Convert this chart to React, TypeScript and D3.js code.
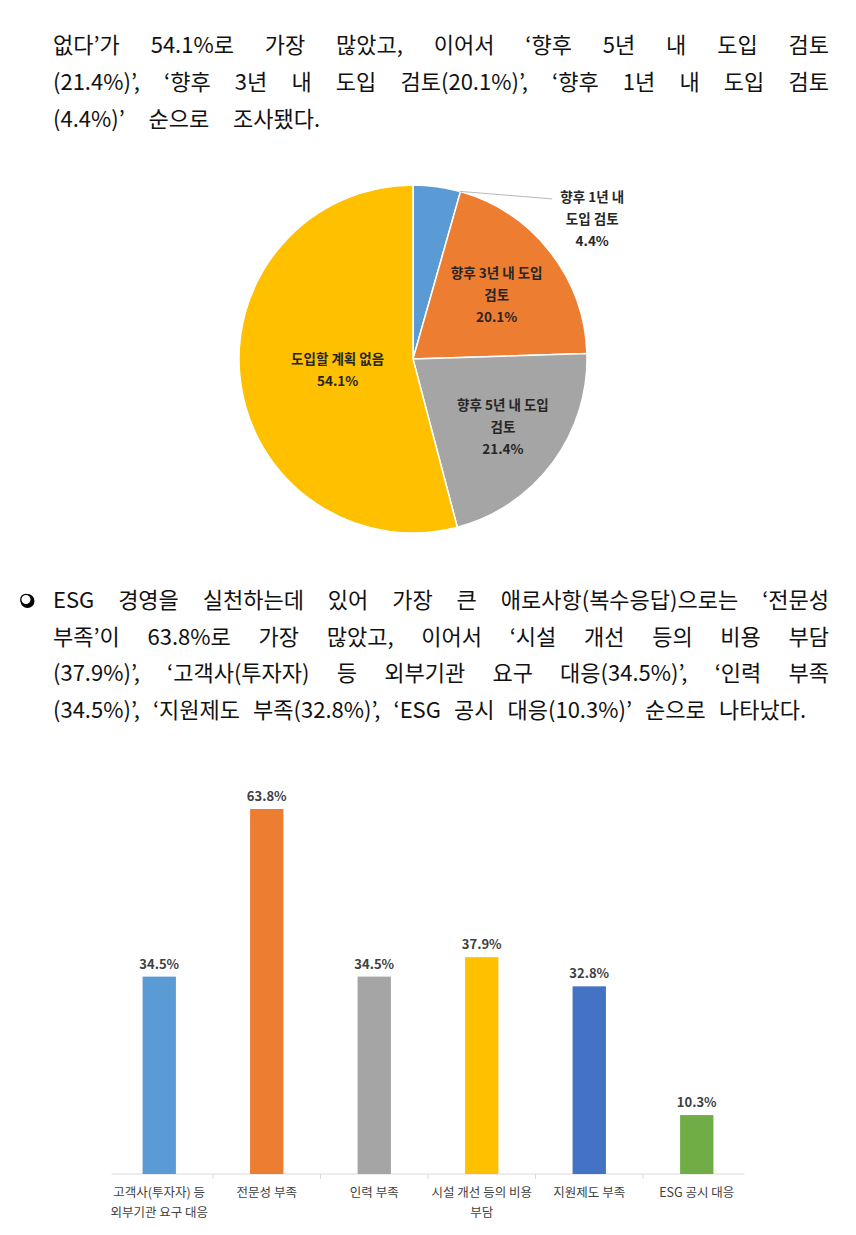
import React, { useRef, useEffect } from 'react';
import * as d3 from 'd3';

// body text (one entry per printed line)
const introLines = [
  '없다’가 54.1%로 가장 많았고, 이어서 ‘향후 5년 내 도입 검토',
  '(21.4%)’, ‘향후 3년 내 도입 검토(20.1%)’, ‘향후 1년 내 도입 검토',
  '(4.4%)’ 순으로 조사됐다.',
];
const findingLines = [
  'ESG 경영을 실천하는데 있어 가장 큰 애로사항(복수응답)으로는 ‘전문성',
  '부족’이 63.8%로 가장 많았고, 이어서 ‘시설 개선 등의 비용 부담',
  '(37.9%)’, ‘고객사(투자자) 등 외부기관 요구 대응(34.5%)’, ‘인력 부족',
  '(34.5%)’, ‘지원제도 부족(32.8%)’, ‘ESG 공시 대응(10.3%)’ 순으로 나타났다.',
];

// pie: adoption plans
const pieCategories = ['향후 1년 내 도입 검토', '향후 3년 내 도입 검토', '향후 5년 내 도입 검토', '도입할 계획 없음'];
const pieValues = [4.4, 20.1, 21.4, 54.1];
const pieLabelLines = [['향후 1년 내', '도입 검토'], ['향후 3년 내 도입', '검토'], ['향후 5년 내 도입', '검토'], ['도입할 계획 없음']];
const pieColors = ['#5B9BD5', '#ED7D31', '#A5A5A5', '#FFC000'];

// bars: main obstacles (multiple answers)
const barCategories = ['고객사(투자자) 등 외부기관 요구 대응', '전문성 부족', '인력 부족', '시설 개선 등의 비용 부담', '지원제도 부족', 'ESG 공시 대응'];
const barValues = [34.5, 63.8, 34.5, 37.9, 32.8, 10.3];
const barLabelLines = [['고객사(투자자) 등', '외부기관 요구 대응'], ['전문성 부족'], ['인력 부족'], ['시설 개선 등의 비용', '부담'], ['지원제도 부족'], ['ESG 공시 대응']];
const barColors = ['#5B9BD5', '#ED7D31', '#A5A5A5', '#FFC000', '#4472C4', '#70AD47'];

const W = 856;
const H = 1235;
const FONT = '"Noto Sans CJK KR", "Noto Sans", sans-serif';

export default function App() {
  const ref = useRef<SVGSVGElement>(null);

  useEffect(() => {
    if (!ref.current) return;
    const svg = d3.select(ref.current);
    svg.selectAll('*').remove();

    drawParagraph(svg, introLines, 53, [829, 829, 320], 53, 37);

    // shadowed bullet
    svg.append('circle').attr('cx', 27.5).attr('cy', 601).attr('r', 7).attr('fill', '#000');
    svg.append('circle').attr('cx', 26).attr('cy', 599.5).attr('r', 5.2)
      .attr('fill', '#fff').attr('stroke', '#000').attr('stroke-width', 1.3);
    drawParagraph(svg, findingLines, 53, [829, 829, 829, 806], 608, 36.7);

    drawPie(svg);
    drawBars(svg);
  }, []);

  return (
    <svg ref={ref} width={W} height={H}
      style={{ position: 'absolute', left: 0, top: 0, display: 'block', background: '#fff' }} />
  );
}

// lays out each line word by word, stretching the gaps to reach the end x
function drawParagraph(svg: any, lines: string[], x0: number, ends: number[], y0: number, lineH: number) {
  const g = svg.append('g')
    .attr('font-family', FONT)
    .attr('font-size', 22)
    .attr('fill', '#111');

  lines.forEach((line, i) => {
    const words = line.split(' ');
    const texts = words.map((w) => g.append('text').attr('y', y0 + i * lineH).text(w));
    const widths = texts.map((t: any) => (t.node() as SVGTextElement).getComputedTextLength());
    const total = d3.sum(widths);
    const gap = words.length > 1 ? (ends[i] - x0 - total) / (words.length - 1) : 0;
    let x = x0;
    texts.forEach((t: any, j: number) => {
      t.attr('x', x);
      x += widths[j] + gap;
    });
  });
}

function drawPie(svg: any) {
  const cx = 413;
  const cy = 359;
  const r = 174;

  const pie = d3.pie<number>().sort(null).value((d) => d);
  const arcs = pie(pieValues);
  const arc = d3.arc<d3.PieArcDatum<number>>().innerRadius(0).outerRadius(r);

  const g = svg.append('g').attr('transform', `translate(${cx},${cy})`);

  g.selectAll('path')
    .data(arcs)
    .enter()
    .append('path')
    .attr('d', arc)
    .attr('fill', (_: any, i: number) => pieColors[i])
    .attr('stroke', '#fff')
    .attr('stroke-width', 1.5)
    .append('title')
    .text((_: any, i: number) => pieCategories[i]);

  const labels = g.append('g')
    .attr('font-family', FONT)
    .attr('font-size', 13.5)
    .attr('font-weight', 700)
    .attr('fill', '#262626')
    .attr('text-anchor', 'middle');

  const lineH = 22;
  // inside labels sit at a fraction of the radius along the slice middle
  const labelRadius = [0, 0.61, 0.645, 0.437];

  arcs.forEach((a, i) => {
    const lines = [...pieLabelLines[i], `${pieValues[i]}%`];
    let px: number;
    let py: number;
    if (i === 0) {
      // small slice: label outside with a leader line from the slice edge
      const ang = a.endAngle - 0.005;
      const sx = Math.sin(ang) * r;
      const sy = -Math.cos(ang) * r;
      const ex = r * 0.8;
      const ey = -r * 0.92;
      labels.append('line')
        .attr('x1', sx).attr('y1', sy).attr('x2', ex).attr('y2', ey)
        .attr('stroke', '#A6A6A6').attr('stroke-width', 0.8);
      px = ex + 40;
      py = ey + 19;
    } else {
      const mid = (a.startAngle + a.endAngle) / 2;
      px = Math.sin(mid) * r * labelRadius[i];
      py = -Math.cos(mid) * r * labelRadius[i];
    }
    lines.forEach((t, k) => {
      labels.append('text')
        .attr('x', px)
        .attr('y', py + (k - (lines.length - 1) / 2) * lineH)
        .attr('dominant-baseline', 'central')
        .text(t);
    });
  });
}

function drawBars(svg: any) {
  const x = d3.scaleBand<string>()
    .domain(barCategories)
    .range([105.5, 750.5])
    .padding(0);

  const y = d3.scaleLinear()
    .domain([0, 63.8])
    .range([1174, 809]);

  const barW = x.step() * 0.31;
  const g = svg.append('g');

  // category axis
  g.append('line')
    .attr('x1', x.range()[0] + 6).attr('x2', x.range()[1] - 6)
    .attr('y1', y(0)).attr('y2', y(0))
    .attr('stroke', '#D9D9D9').attr('stroke-width', 1);
  barCategories.slice(1).forEach((c) => {
    g.append('line')
      .attr('x1', x(c)!).attr('x2', x(c)!)
      .attr('y1', y(0)).attr('y2', y(0) + 5)
      .attr('stroke', '#D9D9D9').attr('stroke-width', 1);
  });

  g.selectAll('.bar')
    .data(barValues)
    .enter()
    .append('rect')
    .attr('class', 'bar')
    .attr('x', (_: number, i: number) => x(barCategories[i])! + (x.bandwidth() - barW) / 2)
    .attr('y', (d: number) => y(d))
    .attr('width', barW)
    .attr('height', (d: number) => y(0) - y(d))
    .attr('fill', (_: number, i: number) => barColors[i]);

  // value labels
  g.selectAll('.val')
    .data(barValues)
    .enter()
    .append('text')
    .attr('class', 'val')
    .attr('x', (_: number, i: number) => x(barCategories[i])! + x.bandwidth() / 2)
    .attr('y', (d: number) => y(d) - 8)
    .attr('text-anchor', 'middle')
    .attr('font-family', FONT)
    .attr('font-size', 13)
    .attr('font-weight', 700)
    .attr('fill', '#404040')
    .text((d: number) => `${d}%`);

  // category labels
  barCategories.forEach((c, i) => {
    barLabelLines[i].forEach((t, k) => {
      g.append('text')
        .attr('x', x(c)! + x.bandwidth() / 2)
        .attr('y', 1197 + k * 19.5)
        .attr('text-anchor', 'middle')
        .attr('font-family', FONT)
        .attr('font-size', 12.5)
        .attr('fill', '#404040')
        .text(t);
    });
  });
}
